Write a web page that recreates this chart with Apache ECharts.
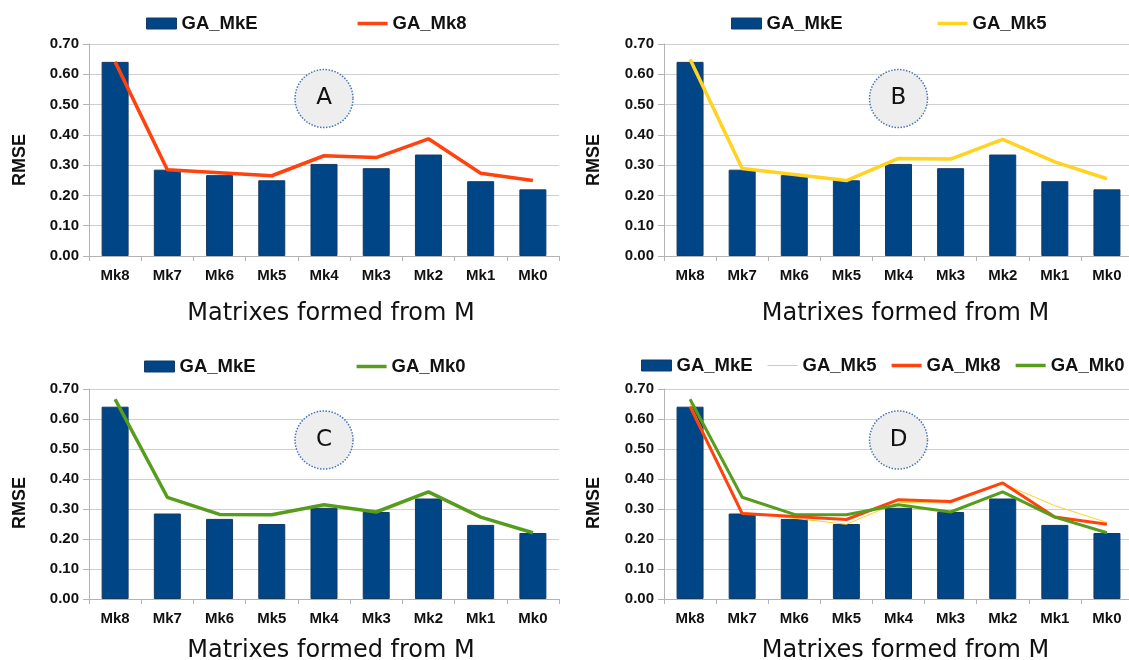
<!DOCTYPE html>
<html>
<head>
<meta charset="utf-8">
<script src="https://cdn.jsdelivr.net/npm/echarts@6/dist/echarts.min.js"></script>
<style>
  html, body { margin: 0; padding: 0; background: #ffffff; }
  body { width: 1129px; height: 660px; position: relative; overflow: hidden; }
  .panel { position: absolute; }
</style>
</head>
<body>
<div id="pA" class="panel" style="left:0px;top:0px;width:565px;height:345px;"></div>
<div id="pB" class="panel" style="left:565px;top:0px;width:564px;height:345px;"></div>
<div id="pC" class="panel" style="left:0px;top:345px;width:565px;height:315px;"></div>
<div id="pD" class="panel" style="left:565px;top:345px;width:564px;height:315px;"></div>
<script>
// ---- data ----
const categories = ['Mk8', 'Mk7', 'Mk6', 'Mk5', 'Mk4', 'Mk3', 'Mk2', 'Mk1', 'Mk0'];
const gaMkE = [0.641, 0.285, 0.267, 0.250, 0.304, 0.290, 0.335, 0.247, 0.220];
const gaMk8 = [0.641, 0.285, 0.275, 0.265, 0.331, 0.325, 0.387, 0.273, 0.249];
const gaMk5 = [0.650, 0.289, 0.269, 0.249, 0.322, 0.320, 0.385, 0.311, 0.255];
const gaMk0 = [0.666, 0.339, 0.282, 0.281, 0.314, 0.290, 0.357, 0.273, 0.221];
const yTickValues = [0.00, 0.10, 0.20, 0.30, 0.40, 0.50, 0.60, 0.70];
const panelLetters = ['A', 'B', 'C', 'D'];
const xTitle = 'Matrixes formed from M';
const yTitle = 'RMSE';

const COLORS = { bar: '#004586', mk8: '#ff420e', mk5: '#ffd320', mk0: '#579d1c' };
const BOLD_FONT = '"Liberation Sans", Arial, sans-serif';
const TITLE_FONT = '"DejaVu Sans", sans-serif';
const ICON_THICK = 'path://M0,0h60v7h-60z';
const ICON_THIN = 'path://M0,0h60v2h-60z';

function lineSeries(name, data, color, width) {
  return {
    name: name, type: 'line', data: data, symbol: 'none',
    lineStyle: { color: color, width: width }, itemStyle: { color: color },
    z: 3
  };
}

const panels = [
  { el: 'pA', letter: panelLetters[0], grid: { left: 89, top: 44, width: 470, height: 212 },
    legend: { left: 146, top: 14, itemGap: 100 }, rmse: [20, 160], mark: 0.52, xGap: 46,
    lines: [lineSeries('GA_Mk8', gaMk8, COLORS.mk8, 3.5)] },
  { el: 'pB', letter: panelLetters[1], grid: { left: 99, top: 44, width: 469, height: 212 },
    legend: { left: 166, top: 14, itemGap: 95 }, rmse: [29, 160], mark: 0.52, xGap: 46,
    lines: [lineSeries('GA_Mk5', gaMk5, COLORS.mk5, 3.5)] },
  { el: 'pC', letter: panelLetters[2], grid: { left: 89, top: 44, width: 470, height: 210 },
    legend: { left: 144, top: 12, itemGap: 101 }, rmse: [20, 158], mark: 0.53, xGap: 40,
    lines: [lineSeries('GA_Mk0', gaMk0, COLORS.mk0, 3.5)] },
  { el: 'pD', letter: panelLetters[3], grid: { left: 99, top: 44, width: 469, height: 210 },
    legend: { left: 76, top: 11, itemGap: 15 }, rmse: [29, 158], mark: 0.53, xGap: 40,
    lines: [
      lineSeries('GA_Mk5', gaMk5, COLORS.mk5, 1),
      lineSeries('GA_Mk8', gaMk8, COLORS.mk8, 3),
      lineSeries('GA_Mk0', gaMk0, COLORS.mk0, 3)
    ] }
];

panels.forEach(function (p) {
  const chart = echarts.init(document.getElementById(p.el), null, { renderer: 'canvas' });
  const legendData = [{ name: 'GA_MkE', icon: 'rect', itemStyle: { borderColor: '#173a63', borderWidth: 1 } }].concat(
    p.lines.map(function (s) {
      return { name: s.name, icon: s.lineStyle.width < 2 ? ICON_THIN : ICON_THICK };
    })
  );
  const option = {
    animation: false,
    backgroundColor: '#ffffff',
    textStyle: { fontFamily: BOLD_FONT },
    legend: {
      left: p.legend.left, top: p.legend.top, itemGap: p.legend.itemGap,
      width: 800, orient: 'horizontal',
      itemWidth: 30, itemHeight: 11, padding: 0, symbolKeepAspect: true,
      data: legendData,
      textStyle: { fontFamily: BOLD_FONT, fontWeight: 'bold', fontSize: 18.5, color: '#111111' }
    },
    grid: Object.assign({ containLabel: false, outerBoundsMode: 'none' }, p.grid),
    xAxis: {
      type: 'category', data: categories,
      axisLine: { show: true, lineStyle: { color: '#b3b3b3', width: 1 } },
      axisTick: { show: true, length: 5, lineStyle: { color: '#b3b3b3' } },
      axisLabel: { interval: 0, margin: 12, fontFamily: BOLD_FONT, fontWeight: 'bold', fontSize: 15, color: '#111111' },
      splitLine: { show: false },
      name: xTitle, nameLocation: 'middle', nameGap: p.xGap,
      nameTextStyle: { fontFamily: TITLE_FONT, fontSize: 24, color: '#111111', padding: [0, 0, 0, 14] }
    },
    yAxis: {
      type: 'value', min: 0, max: 0.7, interval: 0.1,
      axisLine: { show: true, lineStyle: { color: '#b3b3b3', width: 1 } },
      axisTick: { show: true, length: 6, lineStyle: { color: '#b3b3b3' } },
      axisLabel: {
        margin: 10, fontFamily: BOLD_FONT, fontWeight: 'bold', fontSize: 15, color: '#111111',
        formatter: function (v) {
          const t = yTickValues.find(function (x) { return Math.abs(x - v) < 1e-9; });
          return (t !== undefined ? t : v).toFixed(2);
        }
      },
      splitLine: { show: true, lineStyle: { color: '#cfcfcf', width: 1 } }
    },
    graphic: [{
      type: 'text', x: p.rmse[0], y: p.rmse[1], rotation: Math.PI / 2,
      style: { text: yTitle, font: 'bold 18px "Liberation Sans", Arial, sans-serif', fill: '#111111', align: 'center', verticalAlign: 'middle' }
    }],
    series: [{
      name: 'GA_MkE', type: 'bar', data: gaMkE, barWidth: 27,
      itemStyle: { color: COLORS.bar, borderColor: '#173a63', borderWidth: 1 },
      z: 2,
      markPoint: {
        silent: true,
        data: [{
          coord: ['Mk4', p.mark], symbol: 'circle', symbolSize: 58,
          itemStyle: { color: '#eeeeee', borderColor: '#4a74b8', borderWidth: 1.5, borderType: 'dotted' },
          label: { show: true, position: 'inside', formatter: p.letter, fontFamily: TITLE_FONT, fontSize: 23, color: '#111111' }
        }]
      }
    }].concat(p.lines)
  };
  chart.setOption(option);
});
</script>
</body>
</html>
